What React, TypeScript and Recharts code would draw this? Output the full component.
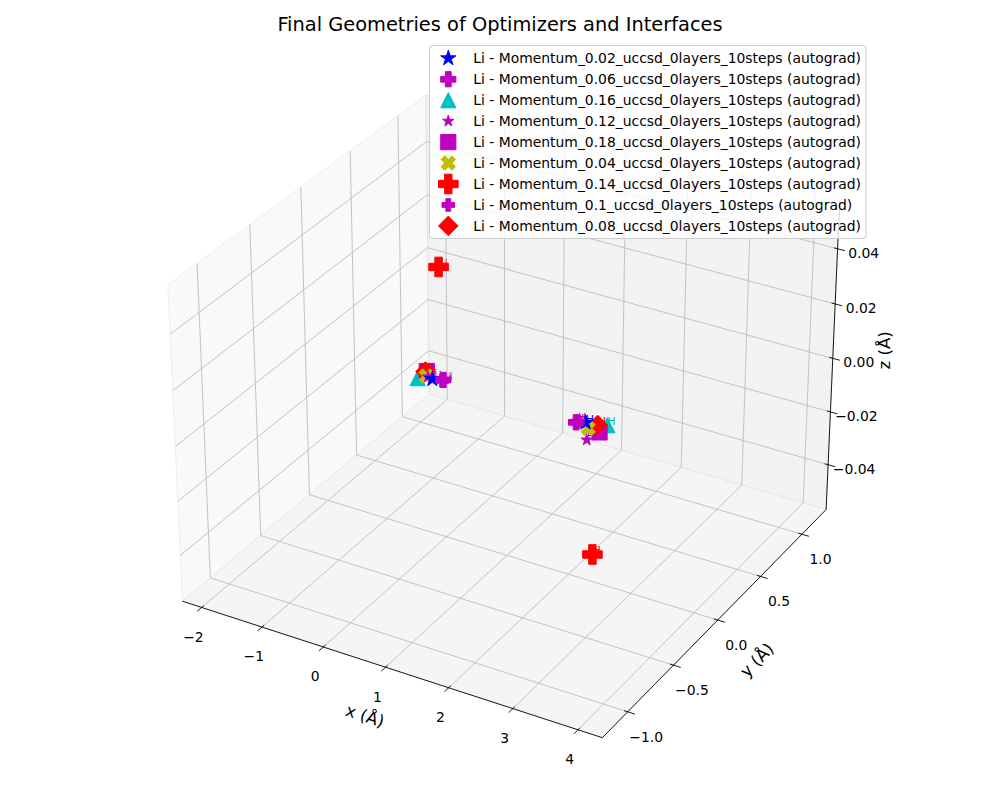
import React from "react";
import { ScatterChart, Scatter, XAxis, YAxis } from "recharts";

// ---- data ----
const runs = ["0.02", "0.06", "0.16", "0.12", "0.18", "0.04", "0.14", "0.1", "0.08"];
const legendLabels = runs.map((m) => `Li - Momentum_${m}_uccsd_0layers_10steps (autograd)`);

const liX = [-0.21, -0.03, -0.45, -0.28, -0.3, -0.31, -0.09, -0.05, -0.32];
const liY = [0, 0, 0, 0, 0, 0, 0, 0, 0];
const liZ = [0.0006, 0.0015, -0.0006, 0.001, 0.003, 0.0011, 0.042, 0.001, 0.0027];
const hX = [2.25, 2.1, 2.59, 2.27, 2.47, 2.29, 2.38, 2.13, 2.44];
const hY = [0, 0, 0, 0, 0, 0, 0, 0, 0];
const hZ = [0.0009, 0.0, 0.0022, -0.0053, -0.0012, -0.0009, -0.047, 0.0005, 0.0013];

const xTicks = [-2, -1, 0, 1, 2, 3, 4];
const yTicks = [-1.0, -0.5, 0.0, 0.5, 1.0];
const zTicks = [-0.04, -0.02, 0.0, 0.02, 0.04];
const xTickLabels = ["\u22122", "\u22121", "0", "1", "2", "3", "4"];
const yTickLabels = ["\u22121.0", "\u22120.5", "0.0", "0.5", "1.0"];
const zTickLabels = ["\u22120.04", "\u22120.02", "0.00", "0.02", "0.04"];

// axis box limits
const xBox = [-2.32, 4.37];
const yBox = [-1.27, 1.3];
const zBox = [-0.0572, 0.0572];

// ---- styles ----
const markerStyle = [
  { kind: "star", color: "#0000ff", r: 8.0 },
  { kind: "plus", color: "#bf00bf", r: 7.6 },
  { kind: "tri", color: "#00bfbf", r: 7.6 },
  { kind: "star", color: "#bf00bf", r: 6.0 },
  { kind: "square", color: "#bf00bf", r: 7.6 },
  { kind: "x", color: "#bfbf00", r: 7.2 },
  { kind: "plus", color: "#ff0000", r: 9.8 },
  { kind: "plus", color: "#bf00bf", r: 6.3 },
  { kind: "diamond", color: "#ff0000", r: 9.8 },
];
const drawOrder = [2, 4, 8, 5, 3, 0, 1, 7, 6];
const FONT = "DejaVu Sans, Liberation Sans, sans-serif";

// ---- 3d projection (elev 30, azim -60, perspective) ----
const ELEV = (30 * Math.PI) / 180;
const AZIM = (-60 * Math.PI) / 180;
const DIST = 10;
const ASPECT = [4, 4, 3].map((v) => (v * 1.8294640721620434) / Math.sqrt(41));
const CX = 510;
const CY = 401.6;
const SCALE = 4210;

type V3 = [number, number, number];
const dot = (a: V3, b: V3) => a[0] * b[0] + a[1] * b[1] + a[2] * b[2];
const cross = (a: V3, b: V3): V3 => [
  a[1] * b[2] - a[2] * b[1],
  a[2] * b[0] - a[0] * b[2],
  a[0] * b[1] - a[1] * b[0],
];
const norm = (a: V3): V3 => {
  const l = Math.sqrt(dot(a, a));
  return [a[0] / l, a[1] / l, a[2] / l];
};
const wv: V3 = [Math.cos(ELEV) * Math.cos(AZIM), Math.cos(ELEV) * Math.sin(AZIM), Math.sin(ELEV)];
const uv = norm(cross([0, 0, 1], wv));
const vv = cross(wv, uv);

const toQ = (v: number, box: number[], asp: number) =>
  ((v - (box[0] + box[1]) / 2) / (box[1] - box[0])) * asp;

function project(x: number, y: number, z: number) {
  const q: V3 = [toQ(x, xBox, ASPECT[0]), toQ(y, yBox, ASPECT[1]), toQ(z, zBox, ASPECT[2])];
  const d = DIST - dot(wv, q);
  return { px: CX + (SCALE * dot(uv, q)) / d, py: CY - (SCALE * dot(vv, q)) / d };
}

const [x0, x1] = xBox;
const [y0, y1] = yBox;
const [z0, z1] = zBox;
const xr = x1 - x0;
const yr = y1 - y0;

const poly = (pts: V3[]) => [...pts, pts[0]].map((p) => project(p[0], p[1], p[2]));
const panes = [
  { fill: "#f9f9f9", stroke: "#eeeeee", pts: poly([[x0, y0, z0], [x0, y1, z0], [x0, y1, z1], [x0, y0, z1]]) },
  { fill: "#f2f2f2", stroke: "#e4e4e4", pts: poly([[x0, y1, z0], [x1, y1, z0], [x1, y1, z1], [x0, y1, z1]]) },
  { fill: "#f5f5f5", stroke: "#e8e8e8", pts: poly([[x0, y0, z0], [x1, y0, z0], [x1, y1, z0], [x0, y1, z0]]) },
];

const seg = (a: V3, b: V3) => [project(a[0], a[1], a[2]), project(b[0], b[1], b[2])];
const gridLines = [
  ...xTicks.flatMap((t) => [seg([t, y0, z0], [t, y1, z0]), seg([t, y1, z0], [t, y1, z1])]),
  ...yTicks.flatMap((t) => [seg([x0, t, z0], [x1, t, z0]), seg([x0, t, z0], [x0, t, z1])]),
  ...zTicks.flatMap((t) => [seg([x0, y0, t], [x0, y1, t]), seg([x0, y1, t], [x1, y1, t])]),
];
const axisLines = [
  seg([x0, y0, z0], [x1, y0, z0]),
  seg([x1, y0, z0], [x1, y1, z0]),
  seg([x1, y1, z0], [x1, y1, z1]),
];
const tickMarks = [
  ...xTicks.map((t) => seg([t, y0 - 0.0167 * yr, z0], [t, y0 + 0.0083 * yr, z0])),
  ...yTicks.map((t) => seg([x1 + 0.0167 * xr, t, z0], [x1 - 0.0083 * xr, t, z0])),
  ...zTicks.map((t) => seg([x1 + 0.0167 * xr, y1, t], [x1 - 0.0083 * xr, y1, t])),
];

const shift = (p: { px: number; py: number }, dx: number, dy: number) => ({ px: p.px + dx, py: p.py + dy });
const tickLabels = [
  ...xTicks.map((t, i) => ({ ...shift(project(t, y0, z0), -8.2, 29.4), text: xTickLabels[i] })),
  ...yTicks.map((t, i) => ({ ...shift(project(x1, t, z0), 18.5, 24.7), text: yTickLabels[i] })),
  ...zTicks.map((t, i) => ({ ...shift(project(x1, y1, t), 26, 4), text: zTickLabels[i] })),
];
const axisLabels = [
  { ...shift(project((x0 + x1) / 2, y0, z0), -22, 48), text: "x (\u00c5)", rot: 18.2 },
  { ...shift(project(x1, (y0 + y1) / 2, z0), 37.7, 41.2), text: "y (\u00c5)", rot: -45.6 },
  { ...shift(project(x1, y1, (z0 + z1) / 2), 51, -8), text: "z (\u00c5)", rot: -90 },
];

const atomPoints = runs.map((_, i) => [
  { ...project(liX[i], liY[i], liZ[i]), text: "Li" },
  { ...project(hX[i], hY[i], hZ[i]), text: "H" },
]);

function markerPath(kind: string, cx: number, cy: number, r: number): string {
  let pts: number[][] = [];
  if (kind === "star") {
    for (let i = 0; i < 10; i++) {
      const rad = i % 2 === 0 ? r : r * 0.381966;
      const ang = -Math.PI / 2 + (i * Math.PI) / 5;
      pts.push([rad * Math.cos(ang), rad * Math.sin(ang)]);
    }
  } else if (kind === "plus") {
    const a = r * 0.38;
    pts = [[-r, -a], [-a, -a], [-a, -r], [a, -r], [a, -a], [r, -a], [r, a], [a, a], [a, r], [-a, r], [-a, a], [-r, a]];
  } else if (kind === "x") {
    const h = r / 2;
    pts = [[-1, -2], [0, -1], [1, -2], [2, -1], [1, 0], [2, 1], [1, 2], [0, 1], [-1, 2], [-2, 1], [-1, 0], [-2, -1]].map(
      ([a, b]) => [a * h, b * h]
    );
  } else if (kind === "tri") {
    pts = [[0, -r], [r, r], [-r, r]];
  } else if (kind === "square") {
    pts = [[-r, -r], [r, -r], [r, r], [-r, r]];
  } else {
    pts = [[0, -r], [r, 0], [0, r], [-r, 0]];
  }
  return "M" + pts.map(([a, b]) => `${(cx + a).toFixed(2)},${(cy + b).toFixed(2)}`).join("L") + "Z";
}

const nothing = () => <g />;

function Legend() {
  const top = 58.3;
  const step = 20.95;
  return (
    <svg width={1000} height={800} style={{ position: "absolute", left: 0, top: 0, pointerEvents: "none" }}>
      <text x={500} y={31} textAnchor="middle" fontFamily={FONT} fontSize={19.4} fill="#000">
        Final Geometries of Optimizers and Interfaces
      </text>
      <rect x={429.5} y={45.5} width={436.5} height={193} rx={3} fill="#ffffff" fillOpacity={0.8} stroke="#cccccc" strokeWidth={1} />
      {legendLabels.map((label, i) => {
        const st = markerStyle[i];
        const cy = top + i * step;
        return (
          <g key={label}>
            <path d={markerPath(st.kind, 448.3, cy, st.r)} fill={st.color} stroke={st.color} strokeWidth={1} />
            <text x={473.3} y={cy} dominantBaseline="central" fontFamily={FONT} fontSize={13.9} fill="#000">
              {label}
            </text>
          </g>
        );
      })}
    </svg>
  );
}

export default function App() {
  return (
    <div style={{ position: "absolute", left: 0, top: 0, width: 1000, height: 800, background: "#fff" }}>
      <ScatterChart width={1000} height={800} margin={{ top: 0, right: 0, bottom: 0, left: 0 }}>
        <XAxis type="number" dataKey="px" domain={[0, 1000]} allowDataOverflow hide />
        <YAxis type="number" dataKey="py" domain={[0, 800]} allowDataOverflow reversed hide />

        {panes.map((p, i) => (
          <Scatter
            key={`pane-${i}`}
            data={p.pts}
            shape={nothing}
            line={{ fill: p.fill, stroke: p.stroke, strokeWidth: 1 }}
            legendType="none"
            isAnimationActive={false}
          />
        ))}
        {gridLines.map((g, i) => (
          <Scatter
            key={`grid-${i}`}
            data={g}
            shape={nothing}
            line={{ stroke: "#bcbcbc", strokeWidth: 0.9 }}
            legendType="none"
            isAnimationActive={false}
          />
        ))}
        {[...axisLines, ...tickMarks].map((g, i) => (
          <Scatter
            key={`axis-${i}`}
            data={g}
            shape={nothing}
            line={{ stroke: "#000000", strokeWidth: 0.9 }}
            legendType="none"
            isAnimationActive={false}
          />
        ))}
        <Scatter
          data={tickLabels}
          legendType="none"
          isAnimationActive={false}
          shape={(p: any) => (
            <text x={p.cx} y={p.cy} textAnchor="middle" dominantBaseline="central" fontFamily={FONT} fontSize={13.9} fill="#000">
              {p.payload.text}
            </text>
          )}
        />
        <Scatter
          data={axisLabels}
          legendType="none"
          isAnimationActive={false}
          shape={(p: any) => (
            <text
              x={p.cx}
              y={p.cy}
              textAnchor="middle"
              dominantBaseline="central"
              fontFamily={FONT}
              fontSize={16.7}
              fill="#000"
              transform={`rotate(${p.payload.rot} ${p.cx} ${p.cy})`}
            >
              {p.payload.text}
            </text>
          )}
        />
        {runs.map((m, i) => (
          <Scatter
            key={`lbl-${m}`}
            data={atomPoints[i]}
            legendType="none"
            isAnimationActive={false}
            shape={(p: any) => (
              <text x={p.cx} y={p.cy} fontFamily={FONT} fontSize={11} fill={markerStyle[i].color}>
                {p.payload.text}
              </text>
            )}
          />
        ))}
        {drawOrder.map((i) => (
          <Scatter
            key={`run-${runs[i]}`}
            name={legendLabels[i]}
            data={atomPoints[i]}
            isAnimationActive={false}
            shape={(p: any) => (
              <path
                d={markerPath(markerStyle[i].kind, p.cx, p.cy, markerStyle[i].r)}
                fill={markerStyle[i].color}
                stroke={markerStyle[i].color}
                strokeWidth={1}
              />
            )}
          />
        ))}
      </ScatterChart>
      <Legend />
    </div>
  );
}
